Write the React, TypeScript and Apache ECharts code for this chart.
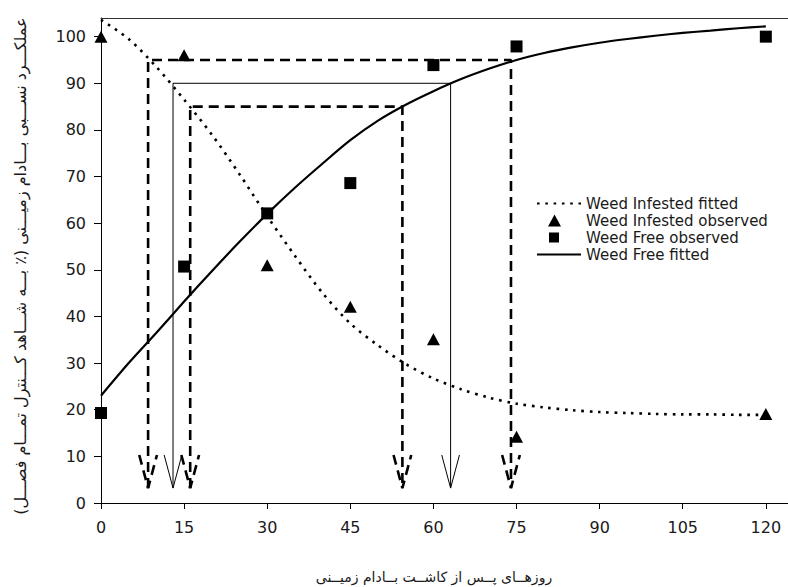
import React, { useEffect, useRef } from "react";
import * as echarts from "echarts";

// Observed data (days after planting, relative yield %)
const days = [0, 15, 30, 45, 60, 75, 120];
const infestedObserved = [100, 96, 51, 42.1, 35.1, 14.2, 19.1];
const freeObserved = [19.3, 50.7, 62.1, 68.6, 93.9, 97.9, 100];

// Fitted curves
const fitDays = [0, 5, 10, 15, 20, 25, 30, 35, 40, 45, 50, 55, 60, 65, 70, 75, 80, 85, 90, 95, 100, 105, 110, 115, 120];
const infestedFitted = [103.6, 99.5, 93.5, 86.5, 79, 70.5, 61.5, 53, 45, 38.5, 33.8, 29.8, 26.7, 24.4, 22.6, 21.3, 20.5, 19.9, 19.5, 19.3, 19.1, 19.0, 19.0, 18.9, 18.9];
const freeFitted = [23, 30, 36.5, 43.2, 49.7, 56, 62, 67.6, 72.8, 77.8, 82, 85.4, 88.3, 90.9, 93.1, 95, 96.5, 97.7, 98.7, 99.5, 100.2, 100.8, 101.3, 101.8, 102.2];

// Critical period brackets (levels of relative yield and the days)
const bracketLevels = [95, 90, 85];
const bracketStartDays = [8.5, 13, 16.1];
const bracketEndDays = [74, 63.1, 54.4];
const bracketDashed = [true, false, true];
const arrowTip = 3.2;
const arrowHeadTop = 10.3;
const arrowHalfWidth = 1.6;

const xTicks = [0, 15, 30, 45, 60, 75, 90, 105, 120];
const yTicks = [0, 10, 20, 30, 40, 50, 60, 70, 80, 90, 100];

const yTitle = "عملکـــرد نســـبی بـــادام زمیـــنی (٪ بـــه شـــاهد کـــنترل تمـــام فصـــل)";
const xTitle = "روزهــای پــس از کاشــت بــادام زمیــنی";
const legendNames = ["Weed Infested fitted", "Weed Infested observed", "Weed Free observed", "Weed Free fitted"];

const TXT = "#1a1a1a";
const LATIN = "'DejaVu Sans', Verdana, sans-serif";
const CLEAR = "rgba(0,0,0,0)";
// legend icons: the symbol sits in the left part of a 44px-wide icon box
const TRI_ICON = "path://M0,6 L0.01,6 Z M11,12 L17.5,0 L24,12 Z M44,6 L43.99,6 Z";
const RECT_ICON = "path://M0,0 L0.01,0 Z M12,1 L22,1 L22,11 L12,11 Z M44,12 L43.99,12 Z";

export default function App() {
  const ref = useRef<HTMLDivElement>(null);
  useEffect(() => {
    if (!ref.current) return;
    const chart = echarts.init(ref.current, undefined, { renderer: "svg" });

    const bracketSeries: any[] = [];
    bracketLevels.forEach((lvl, i) => {
      const L = bracketStartDays[i];
      const R = bracketEndDays[i];
      const dashed = bracketDashed[i];
      const ls = dashed
        ? { color: "#000", width: 2.6, type: [10, 6] as any, cap: "butt" as any }
        : { color: "#000", width: 1, type: "solid" as any };
      bracketSeries.push({
        type: "line",
        data: [[L, arrowTip], [L, lvl], [R, lvl], [R, arrowTip]],
        symbol: "none",
        silent: true,
        lineStyle: ls,
        z: 1,
      });
      [L, R].forEach((x) => {
        bracketSeries.push({
          type: "line",
          data: [[x - arrowHalfWidth, arrowHeadTop], [x, arrowTip], [x + arrowHalfWidth, arrowHeadTop]],
          symbol: "none",
          silent: true,
          lineStyle: ls,
          z: 1,
        });
      });
    });

    chart.setOption({
      animation: false,
      backgroundColor: "#fff",
      grid: { left: 101, right: 0, top: 18, bottom: 84 },
      legend: {
        data: [
          { name: legendNames[0], itemStyle: { color: CLEAR, borderWidth: 0 } },
          { name: legendNames[1], icon: TRI_ICON },
          { name: legendNames[2], icon: RECT_ICON },
          { name: legendNames[3], itemStyle: { color: CLEAR, borderWidth: 0 } },
        ],
        orient: "vertical",
        left: 536,
        top: 196,
        itemWidth: 44,
        itemHeight: 12,
        itemGap: 2,
        padding: 0,
        selectedMode: false,
        textStyle: { fontFamily: LATIN, fontSize: 15, color: TXT },
      },
      xAxis: [
        {
          type: "value",
          min: 0,
          max: 124,
          interval: 15,
          position: "bottom",
          axisLine: { show: true, onZero: false, lineStyle: { color: "#000", width: 1 } },
          axisTick: { show: true, length: 6, customValues: xTicks, lineStyle: { color: "#000" } },
          axisLabel: { customValues: xTicks, margin: 16, fontFamily: LATIN, fontSize: 16, color: TXT },
          splitLine: { show: false },
        },
        {
          type: "value",
          min: 0,
          max: 124,
          position: "top",
          axisLine: { show: true, onZero: false, lineStyle: { color: "#333", width: 1 } },
          axisTick: { show: false },
          axisLabel: { show: false },
          splitLine: { show: false },
        },
      ],
      yAxis: {
        type: "value",
        min: 0,
        max: 104,
        interval: 10,
        axisLine: { show: true, onZero: false, lineStyle: { color: "#000", width: 1 } },
        axisTick: { show: true, length: 7, customValues: yTicks, lineStyle: { color: "#000" } },
        axisLabel: { customValues: yTicks, margin: 15, fontFamily: LATIN, fontSize: 16, color: TXT },
        splitLine: { show: false },
      },
      graphic: [
        {
          type: "text",
          x: 20,
          y: 266,
          rotation: Math.PI / 2,
          style: {
            text: yTitle,
            fontFamily: "'DejaVu Sans', sans-serif",
            fontSize: 16,
            fill: TXT,
            textAlign: "center",
            textVerticalAlign: "middle",
          },
        },
        {
          type: "text",
          x: 434,
          y: 577,
          style: {
            text: xTitle,
            fontFamily: "'DejaVu Sans', sans-serif",
            fontSize: 14,
            fill: TXT,
            textAlign: "center",
            textVerticalAlign: "middle",
          },
        },
      ],
      series: [
        ...bracketSeries,
        {
          name: "Weed Infested fitted",
          type: "line",
          data: fitDays.map((d, i) => [d, infestedFitted[i]]),
          symbol: "none",
          smooth: 0.3,
          lineStyle: { color: "#000", width: 2.6, type: [2.6, 5.7], cap: "butt" },
          itemStyle: { color: CLEAR },
          z: 2,
        },
        {
          name: "Weed Free fitted",
          type: "line",
          data: fitDays.map((d, i) => [d, freeFitted[i]]),
          symbol: "none",
          smooth: 0.3,
          lineStyle: { color: "#000", width: 2.2, type: "solid" },
          itemStyle: { color: CLEAR },
          z: 2,
        },
        {
          name: "Weed Infested observed",
          type: "scatter",
          data: days.map((d, i) => [d, infestedObserved[i]]),
          symbol: "triangle",
          symbolSize: [13, 12],
          itemStyle: { color: "#000", opacity: 1 },
          z: 3,
        },
        {
          name: "Weed Free observed",
          type: "scatter",
          data: days.map((d, i) => [d, freeObserved[i]]),
          symbol: "rect",
          symbolSize: 12,
          itemStyle: { color: "#000", opacity: 1 },
          z: 3,
        },
      ],
    });
    return () => chart.dispose();
  }, []);
  return <div ref={ref} style={{ position: "fixed", left: 0, top: 0, width: 788, height: 587, background: "#fff" }} />;
}
